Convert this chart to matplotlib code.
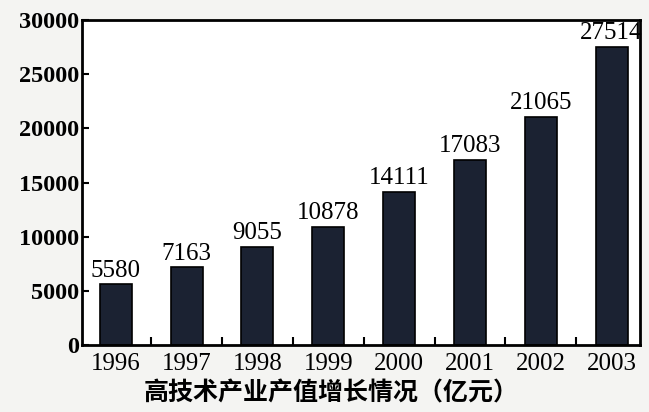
import numpy as np
import matplotlib.pyplot as plt

plt.rcParams['font.family'] = ['Liberation Serif', 'Noto Sans CJK SC']
plt.rcParams['axes.linewidth'] = 2.0

# data (labels above bars)
years = ['1996', '1997', '1998', '1999', '2000', '2001', '2002', '2003']
values = [5580, 7163, 9055, 10878, 14111, 17083, 21065, 27514]
yticks = [0, 5000, 10000, 15000, 20000, 25000, 30000]
title = '高技术产业产值增长情况（亿元）'

fig = plt.figure(figsize=(6.49, 4.12), dpi=100, facecolor='#f4f4f2')
ax = fig.add_axes([0.126, 0.163, 0.86, 0.788])
ax.set_facecolor('white')

x = np.arange(len(years))
ax.bar(x, values, width=0.45, color='#1b2232', edgecolor='black', linewidth=1.2)

for xi, v in zip(x, values):
    ax.text(xi, v + 250, str(v), ha='center', va='bottom', fontsize=18)

ax.set_xlim(-0.48, len(years) - 0.6)
ax.set_ylim(0, 30000)
ax.set_xticks(x)
ax.set_xticklabels(years, fontsize=18)
ax.set_xticks(x[:-1] + 0.5, minor=True)
ax.set_yticks(yticks)
ax.set_yticklabels([str(t) for t in yticks], fontsize=17.5, fontweight='bold')

ax.tick_params(axis='x', which='major', length=0, pad=6)
ax.tick_params(axis='x', which='minor', direction='in', length=6, width=1.5)
ax.tick_params(axis='y', direction='in', length=5, width=1.5, pad=2)

fig.text(0.51, 0.045, title, ha='center', va='center', fontsize=18,
         fontweight='bold', family=['Noto Sans CJK SC', 'DejaVu Sans'])

fig.savefig('out.png', dpi=100, facecolor=fig.get_facecolor())
